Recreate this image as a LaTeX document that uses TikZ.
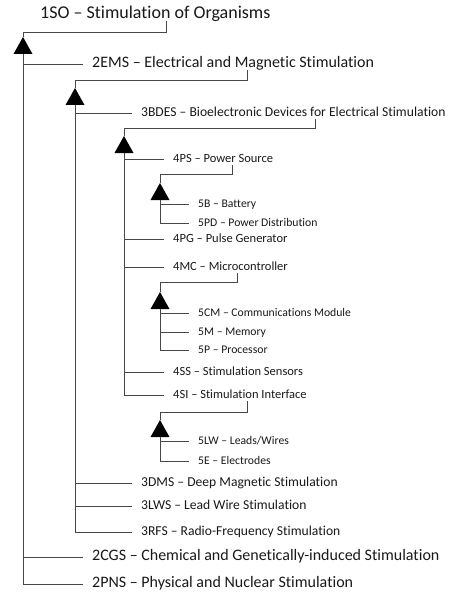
\documentclass[tikz,border=0pt]{standalone}
\usepackage{fontspec}
\setmainfont{Carlito}[Ligatures=NoCommon]
\begin{document}
\begin{tikzpicture}[x=1pt,y=-1pt,
  lbl/.style={anchor=west,inner sep=0pt,text height=0.894em,text depth=0.25em,text=black!90},
  la/.style={lbl,font=\fontsize{18}{20}\selectfont},
  lb/.style={lbl,font=\fontsize{16}{18}\selectfont},
  lc/.style={lbl,font=\fontsize{13.6}{15}\selectfont},
  ld/.style={lbl,font=\fontsize{12.5}{14}\selectfont},
  le/.style={lbl,font=\fontsize{11.7}{13}\selectfont},
  conn/.style={draw=black!72,line width=0.9pt},
  gen/.style={fill=black}
]
\useasboundingbox (0,0) rectangle (456,599);
% nodes
\node[la] (so) at (40,15) {1SO – Stimulation of Organisms};
\node[lb] (ems) at (92,64) {2EMS – Electrical and Magnetic Stimulation};
\node[lc] (bdes) at (141,113) {3BDES – Bioelectronic Devices for Electrical Stimulation};
\node[ld] (ps) at (173,159) {4PS – Power Source};
\node[le] (b) at (198,204) {5B – Battery};
\node[le] (pd) at (198,223) {5PD – Power Distribution};
\node[ld] (pg) at (173,239) {4PG – Pulse Generator};
\node[ld] (mc) at (173,267) {4MC – Microcontroller};
\node[le] (cm) at (198,313) {5CM – Communications Module};
\node[le] (m) at (198,332) {5M – Memory};
\node[le] (p) at (198,350) {5P – Processor};
\node[ld] (ss) at (173,372) {4SS – Stimulation Sensors};
\node[ld] (si) at (173,395) {4SI – Stimulation Interface};
\node[le] (lw) at (198,441) {5LW – Leads/Wires};
\node[le] (e) at (198,461) {5E – Electrodes};
\node[lc] (dms) at (141,483) {3DMS – Deep Magnetic Stimulation};
\node[lc] (lws) at (141,506) {3LWS – Lead Wire Stimulation};
\node[lc] (rfs) at (141,532) {3RFS – Radio-Frequency Stimulation};
\node[lb] (cgs) at (92,557) {2CGS – Chemical and Genetically-induced Stimulation};
\node[lb] (pns) at (92,584) {2PNS – Physical and Nuclear Stimulation};
% generalization groups: #1 parent, #2 drop x, #3 horizontal y, #4 trunk x, #5 apex y
\newcommand{\gengroup}[5]{%
  \coordinate (apx) at (#4,#5);
  \coordinate (bas) at (#4,#5+17);
  \draw[conn] (#1.south -| #2,0) -- (#2,#3) -- (#4,#3) -- (apx);
  \fill[gen] (apx) -- (#4-9.5,#5+17) -- (#4+9.5,#5+17) -- cycle;
}
\newcommand{\branch}[2]{\draw[conn] (#1,0 |- #2.west) -- ([xshift=-9pt]#2.west);}
% level 1
\gengroup{so}{166}{32}{23}{37}
\draw[conn] (bas) |- ([xshift=-9pt]pns.west);
\branch{23}{ems}\branch{23}{cgs}
% level 2
\gengroup{ems}{247}{80}{75}{88}
\draw[conn] (bas) |- ([xshift=-9pt]rfs.west);
\branch{75}{bdes}\branch{75}{dms}\branch{75}{lws}
% level 3
\gengroup{bdes}{315}{128}{124}{136}
\draw[conn] (bas) |- ([xshift=-9pt]si.west);
\branch{124}{ps}\branch{124}{pg}\branch{124}{mc}\branch{124}{ss}
% level 4
\gengroup{ps}{232}{174}{160}{183}
\draw[conn] (bas) |- ([xshift=-9pt]pd.west);
\branch{160}{b}
\gengroup{mc}{237}{282}{160}{292}
\draw[conn] (bas) |- ([xshift=-9pt]p.west);
\branch{160}{cm}\branch{160}{m}
\gengroup{si}{247}{412}{160}{420}
\draw[conn] (bas) |- ([xshift=-9pt]e.west);
\branch{160}{lw}
\end{tikzpicture}
\end{document}
